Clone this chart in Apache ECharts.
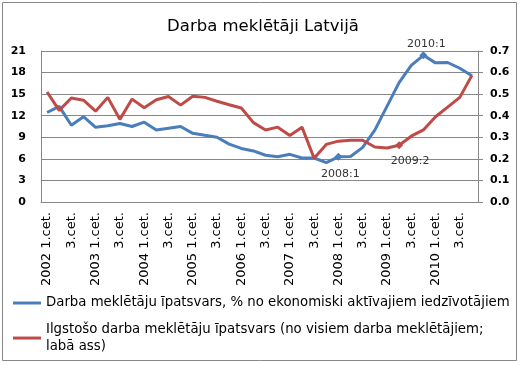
<!DOCTYPE html>
<html>
<head>
<meta charset="utf-8">
<script src="https://cdn.jsdelivr.net/npm/echarts@6/dist/echarts.min.js"></script>
<style>html,body{margin:0;padding:0;background:#fff;}#c{width:526px;height:365px;}</style>
</head>
<body>
<div id="c"></div>
<script>
var years = ['2002','2003','2004','2005','2006','2007','2008','2009','2010'];
var categories = [];
years.forEach(function (y) {
  categories.push(y + ' 1.cet.', '2.cet.', '3.cet.', '4.cet.');
});
var blueName = 'Darba meklētāju īpatsvars, % no ekonomiski aktīvajiem iedzīvotājiem';
var redName = 'Ilgstošo darba meklētāju īpatsvars (no visiem darba meklētājiem;\nlabā ass)';
var blueValues = [12.45, 13.3, 10.68, 11.87, 10.39, 10.6, 10.92, 10.5, 11.1, 10.0, 10.25, 10.5,
  9.55, 9.27, 9.0, 8.05, 7.45, 7.1, 6.5, 6.3, 6.63, 6.12, 6.12, 5.47,
  6.28, 6.33, 7.6, 10.0, 13.3, 16.6, 19.0, 20.4, 19.35, 19.4, 18.6, 17.55];
var redValues = [0.51, 0.425, 0.482, 0.472, 0.421, 0.485, 0.383, 0.477, 0.437, 0.474, 0.489, 0.449,
  0.49, 0.485, 0.467, 0.451, 0.436, 0.368, 0.334, 0.347, 0.308, 0.347, 0.203, 0.267,
  0.282, 0.286, 0.286, 0.255, 0.25, 0.263, 0.305, 0.334, 0.395, 0.44, 0.485, 0.587];
var leftTicks = { min: 0, max: 21, interval: 3 };
var rightTicks = { min: 0, max: 0.7, interval: 0.1 };
var blueMarks = [{ index: 24, text: '2008:1', pos: 'bottom', dist: 8, off: [2, 0] },
                 { index: 31, text: '2010:1', pos: 'top', dist: 2, off: [3, 0] }];
var redMarks = [{ index: 29, text: '2009:2', pos: 'bottom', dist: 6, off: [11, 0] }];

function buildData(values, marks, color) {
  return values.map(function (v, i) {
    var m = marks.filter(function (k) { return k.index === i; })[0];
    if (!m) return v;
    return {
      value: v,
      symbol: 'diamond',
      symbolSize: 8,
      itemStyle: { color: color },
      label: {
        show: true, formatter: m.text, position: m.pos, distance: m.dist, offset: m.off,
        fontFamily: 'DejaVu Sans', fontSize: 11, color: '#333'
      }
    };
  });
}

var blueColor = '#4a7ebb';
var redColor = '#be4b48';
var gray = '#878787';
var chart = echarts.init(document.getElementById('c'), null, { renderer: 'canvas' });
chart.setOption({
  animation: false,
  backgroundColor: '#fff',
  title: {
    text: 'Darba meklētāji Latvijā', left: 'center', top: 13,
    textStyle: { fontFamily: 'DejaVu Sans', fontSize: 16.5, fontWeight: 'normal', color: '#000' }
  },
  graphic: [{
    type: 'rect', shape: { x: 2.5, y: 2.5, width: 514, height: 358 },
    style: { fill: 'none', stroke: gray, lineWidth: 1 }, silent: true
  }],
  legend: [{
    data: [blueName], orient: 'vertical', left: 13, top: 295, padding: 0,
    icon: 'rect', itemWidth: 28, itemHeight: 3, itemGap: 0,
    textStyle: { fontFamily: 'DejaVu Sans', fontSize: 13.3, color: '#000', lineHeight: 16 }
  }, {
    data: [redName], orient: 'vertical', left: 13, top: 313, padding: 0,
    icon: 'rect', itemWidth: 28, itemHeight: 3, itemGap: 0,
    textStyle: { fontFamily: 'DejaVu Sans', fontSize: 13.3, color: '#000', lineHeight: 16.7, padding: [16.7, 0, 0, 0] }
  }],
  grid: { left: 41, right: 48, top: 51, bottom: 163, containLabel: false },
  xAxis: {
    type: 'category', data: categories, boundaryGap: true,
    axisLine: { show: true, lineStyle: { color: gray } },
    axisTick: { show: false },
    axisLabel: {
      interval: 1, rotate: 90, margin: 10,
      fontFamily: 'DejaVu Sans', fontSize: 13, color: '#000'
    },
    splitLine: { show: false }
  },
  yAxis: [{
    type: 'value', min: leftTicks.min, max: leftTicks.max, interval: leftTicks.interval,
    axisLine: { show: true, lineStyle: { color: gray } },
    axisTick: { show: false },
    axisLabel: { margin: 15, fontFamily: 'DejaVu Sans', fontSize: 11, fontWeight: 'bold', color: '#000' },
    splitLine: { show: true, lineStyle: { color: gray, width: 1 } }
  }, {
    type: 'value', position: 'right', min: rightTicks.min, max: rightTicks.max, interval: rightTicks.interval,
    axisLine: { show: true, lineStyle: { color: gray } },
    axisTick: { show: true, length: 5, lineStyle: { color: gray } },
    axisLabel: {
      margin: 12, fontFamily: 'DejaVu Sans', fontSize: 11, fontWeight: 'bold', color: '#000',
      formatter: function (v) { return v.toFixed(1); }
    },
    splitLine: { show: false }
  }],
  series: [{
    name: blueName, type: 'line', yAxisIndex: 0,
    data: buildData(blueValues, blueMarks, blueColor),
    symbol: 'none', showAllSymbol: true,
    lineStyle: { color: blueColor, width: 3 },
    itemStyle: { color: blueColor }
  }, {
    name: redName, type: 'line', yAxisIndex: 1,
    data: buildData(redValues, redMarks, redColor),
    symbol: 'none', showAllSymbol: true,
    lineStyle: { color: redColor, width: 3 },
    itemStyle: { color: redColor }
  }]
});
</script>
</body>
</html>
